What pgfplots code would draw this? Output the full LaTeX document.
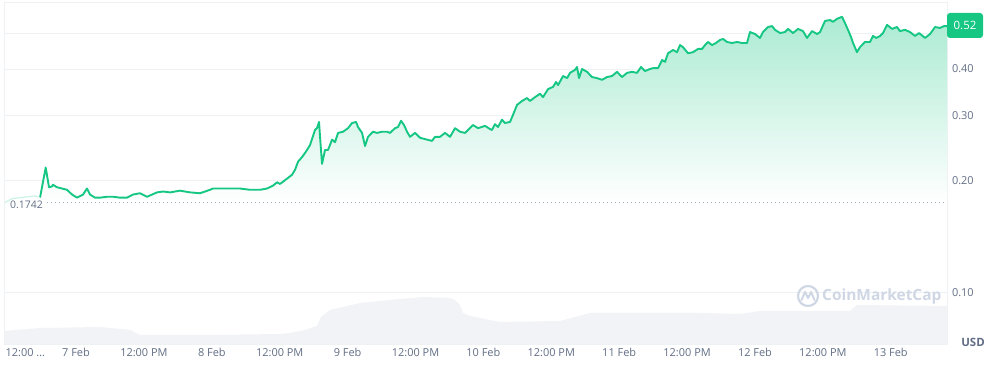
\documentclass[border=0pt]{standalone}
\usepackage{fontspec}
\setmainfont{Open Sans}
\usepackage{pgfplots}
\pgfplotsset{compat=1.18}
\usepackage{pgfplotstable}
\definecolor{cmcgreen}{HTML}{16C784}
\definecolor{cmcgrey}{HTML}{616E85}
\definecolor{gridc}{HTML}{EFF2F5}
\definecolor{volc}{HTML}{F2F3F6}
\definecolor{wmark}{HTML}{CFD6E4}
\definecolor{dotc}{HTML}{A6B0C3}

% hours since 7 Feb 00:00, price in USD
\pgfplotstableread{
h v
-6.36 0.180
-5.36 0.217
-4.77 0.192
-4.24 0.193
-4.07 0.195
-3.36 0.192
-1.59 0.189
-0.71 0.1835
0.18 0.180
1.24 0.1835
1.94 0.1905
2.47 0.1835
3.36 0.180
4.24 0.180
5.48 0.181
6.54 0.181
7.78 0.180
9.01 0.180
10.07 0.1835
11.31 0.185
12.55 0.181
14.32 0.186
15.38 0.187
16.63 0.186
18.38 0.188
20.15 0.186
21.92 0.185
23.68 0.189
24.21 0.1905
26.69 0.1905
28.99 0.1905
30.75 0.189
32.52 0.189
33.76 0.1905
34.82 0.194
35.53 0.198
36.06 0.196
37.29 0.2025
38.18 0.2075
38.71 0.214
39.24 0.225
39.94 0.2315
40.47 0.2375
40.83 0.242
41.36 0.2495
41.89 0.264
42.24 0.274
42.59 0.277
42.95 0.288
43.13 0.2625
43.48 0.222
44.01 0.242
44.54 0.242
45.25 0.258
45.78 0.254
46.31 0.269
47.19 0.271
48.07 0.277
48.78 0.286
49.49 0.288
49.84 0.279
50.55 0.269
51.08 0.248
51.61 0.2625
52.49 0.271
53.20 0.269
54.08 0.271
54.97 0.271
55.50 0.269
56.38 0.277
56.91 0.279
57.44 0.290
57.97 0.2825
58.50 0.271
59.03 0.2625
59.92 0.269
60.80 0.261
62.04 0.258
62.92 0.256
63.45 0.2625
64.33 0.2625
65.22 0.269
66.10 0.2625
66.99 0.277
67.87 0.271
68.75 0.269
70.17 0.2825
71.05 0.277
72.29 0.281
73.17 0.2755
73.52 0.274
74.05 0.284
74.58 0.279
75.29 0.292
75.82 0.286
76.71 0.288
77.24 0.301
77.94 0.320
78.83 0.328
79.71 0.334
80.24 0.328
81.13 0.336
82.01 0.343
82.54 0.336
83.42 0.353
84.31 0.358
84.84 0.369
85.20 0.362
86.08 0.383
86.79 0.378
87.31 0.3905
88.20 0.398
88.55 0.405
88.90 0.378
89.43 0.400
90.32 0.393
91.20 0.3805
92.08 0.378
92.97 0.374
93.85 0.3805
94.74 0.383
95.62 0.393
96.50 0.3805
97.39 0.3905
98.27 0.393
99.15 0.3905
99.86 0.405
100.57 0.395
101.45 0.400
101.98 0.402
102.87 0.402
103.58 0.423
104.11 0.418
104.63 0.441
105.52 0.450
106.22 0.444
106.75 0.464
107.28 0.458
108.17 0.441
109.05 0.444
109.93 0.453
110.64 0.453
111.17 0.464
111.70 0.473
112.41 0.464
113.11 0.470
113.82 0.479
114.35 0.482
115.06 0.473
115.94 0.470
116.83 0.473
117.71 0.470
118.59 0.470
119.12 0.503
120.01 0.497
120.89 0.485
121.42 0.503
122.30 0.519
123.01 0.522
123.54 0.510
124.43 0.500
125.31 0.503
125.84 0.513
126.73 0.500
127.61 0.513
128.49 0.506
129.20 0.485
130.09 0.506
130.97 0.497
131.50 0.503
132.38 0.539
133.27 0.542
133.80 0.536
134.50 0.546
135.38 0.553
135.91 0.532
136.44 0.510
136.97 0.488
137.33 0.470
138.03 0.444
138.56 0.458
139.45 0.473
140.33 0.473
140.86 0.491
141.39 0.485
142.10 0.491
142.63 0.500
143.34 0.526
144.22 0.513
145.10 0.519
145.63 0.506
146.52 0.510
147.40 0.503
148.29 0.491
149.00 0.500
150.06 0.485
150.94 0.497
151.83 0.519
152.71 0.516
153.42 0.522
153.94 0.522
}\price

% relative trading volume (height units)
\pgfplotstableread{
h vol
-12.73 13
-6.36 16
4.24 17
9.54 14
11.31 9
21.92 9
36.06 10
37.82 11
40.47 14
42.59 18
43.30 27
44.89 34
50.19 41
57.26 45
61.68 47
66.10 46
66.99 44
67.87 39
68.40 31
69.64 28
71.40 26
74.94 22
85.54 23
88.20 27
90.85 31
110.29 31
117.36 30
120.89 33
136.80 33
138.03 39
153.94 38
}\volume

\begin{document}
\begin{tikzpicture}
\useasboundingbox (0,0) rectangle (994bp,369bp);
% volume layer
\begin{axis}[at={(4bp,25bp)}, anchor=south west, scale only axis,
  width=943bp, height=342bp, xmin=-12.73, xmax=153.94, ymin=0, ymax=342,
  axis lines=none]
\addplot[draw=none, fill=volc] table {\volume} \closedcycle;
\end{axis}
% price layer
\begin{axis}[at={(4bp,25bp)}, anchor=south west, scale only axis,
  width=943bp, height=342bp, xmin=-12.73, xmax=153.94,
  ymode=log, ymin=0.07258, ymax=0.6062,
  axis line style={gridc, line width=0.8bp},
  ymajorgrids, grid style={gridc, line width=0.8bp},
  major tick length=0pt,
  ytick={0.1,0.2,0.3,0.4,0.5}, yticklabels={0.10,0.20,0.30,0.40,{}},
  yticklabel pos=right,
  yticklabel style={anchor=west, xshift=1.5bp},
  xtick={0,12,...,144},
  xticklabels={7 Feb,12:00 PM,8 Feb,12:00 PM,9 Feb,12:00 PM,10 Feb,12:00 PM,11 Feb,12:00 PM,12 Feb,12:00 PM,13 Feb},
  xticklabel style={yshift=-1bp},
  tick label style={font=\fontsize{11}{13}\selectfont, text=cmcgrey},
  extra x ticks={-12}, extra x tick labels={12:00 \ldots},
  extra x tick style={xticklabel style={anchor=north west, xshift=-6bp}},
  clip=false]
\addplot[draw=none, top color=cmcgreen!36!white, bottom color=white] table {\price}
  -- (axis cs:153.94,0.1742) -- (axis cs:-6.36,0.1742) -- cycle;
\addplot[cmcgreen, line width=1.9bp, line join=round] table {\price};
\addplot[dotc, line width=1bp, dash pattern=on 1bp off 3bp] coordinates {(-5.13,0.1742) (153.94,0.1742)};
\addplot[cmcgreen!22!white, line width=1.2bp, line join=round] coordinates {(-12.55,0.1746) (-11.31,0.179) (-9.90,0.180) (-8.48,0.181) (-7.25,0.182) (-6.36,0.180)};
\end{axis}
% reference price label
\node[text=cmcgrey, font=\fontsize{10.5}{12}\selectfont, inner sep=0pt] at (26.5bp,164bp) {0.1742};
% current price badge
\fill[cmcgreen, rounded corners=3bp] (947bp,331bp) rectangle (983bp,356bp);
\node[text=white, font=\fontsize{11.5}{13}\selectfont, inner sep=0pt] at (965bp,343.5bp) {0.52};
% currency label
\node[text=cmcgrey, font=\fontsize{11.5}{13}\selectfont\bfseries, inner sep=0pt] at (973bp,27bp) {USD};
% watermark
\draw[wmark, line width=2.2bp] (808bp,73bp) circle (10bp);
\draw[wmark, line width=2bp, line cap=round, line join=round] (801.5bp,69bp) -- (805bp,77bp) -- (808bp,71bp) -- (811bp,77bp) -- (814.5bp,69bp);
\node[anchor=west, text=wmark, font=\fontsize{15.5}{18}\selectfont\bfseries, inner sep=0pt] at (822bp,73bp) {CoinMarketCap};
\end{tikzpicture}
\end{document}
